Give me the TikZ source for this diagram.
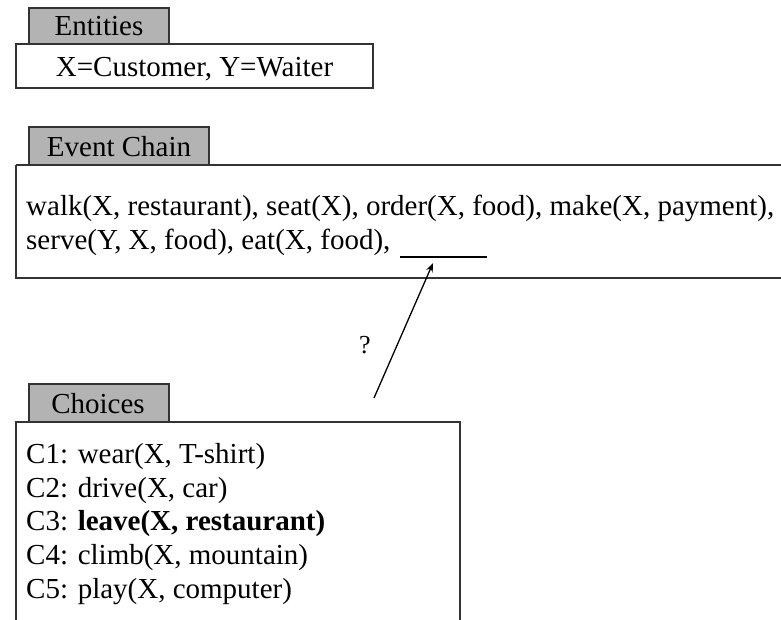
\documentclass[tikz,border=0pt]{standalone}
\usepackage{fontspec}
\setmainfont{Liberation Serif}
\usetikzlibrary{arrows.meta}
\definecolor{tabgray}{RGB}{179,179,179}
\begin{document}
\begin{tikzpicture}[x=1pt,y=-1pt,
  tabbox/.style={draw=black!80,line width=1.3pt,fill=tabgray},
  mainbox/.style={draw=black!80,line width=1.3pt,fill=white},
  txt/.style={font=\fontsize{29}{34}\selectfont,inner sep=0pt,anchor=base},
  lbl/.style={font=\fontsize{29}{34}\selectfont,inner sep=0pt,anchor=base west}]
\useasboundingbox (0,0) rectangle (781,620);
% Entities
\draw[mainbox] (16,44) rectangle (373,88);
\draw[tabbox] (29,8) rectangle (169,44);
\node[txt] (enttab) at (99,36) {Entities};
\node[txt] (ent) at (194.5,77) {X=Customer, Y=Waiter};
% Event chain
\draw[mainbox] (16,165) -- (790,165) (790,278) -- (16,278) -- (16,165);
\draw[tabbox] (29,127) rectangle (209,165);
\node[txt] (evtab) at (119,157) {Event Chain};
\node[lbl] (ev1) at (26,216) {walk(X, restaurant), seat(X), order(X, food), make(X, payment),};
\node[lbl] (ev2) at (26,250) {serve(Y, X, food), eat(X, food),};
\draw[line width=1.5pt] (400,257) -- (487,257) coordinate[pos=0.4] (blank);
% Arrow
\coordinate (astart) at (374,398);
\draw[line width=1.3pt,-{Stealth[length=9pt,width=7pt]}] (astart) -- (433,263);
\node[font=\fontsize{26}{30}\selectfont,inner sep=0pt,anchor=base] (q) at (365,353) {?};
% Choices
\draw[mainbox] (16,640) -- (16,422) -- (460,422) -- (460,640);
\draw[tabbox] (29,384) rectangle (169,422);
\node[txt] (chtab) at (98,413) {Choices};
\node[lbl] (c1) at (26,463) {C1: wear(X, T-shirt)};
\node[lbl] (c2) at (26,497) {C2: drive(X, car)};
\node[lbl] (c3) at (26,530) {C3: \textbf{leave(X, restaurant)}};
\node[lbl] (c4) at (26,564) {C4: climb(X, mountain)};
\node[lbl] (c5) at (26,598) {C5: play(X, computer)};
\end{tikzpicture}
\end{document}
